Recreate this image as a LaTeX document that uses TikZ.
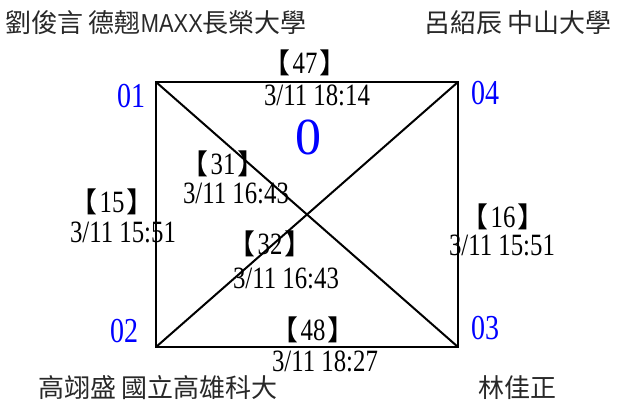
\documentclass[tikz,border=0pt]{standalone}
\usepackage{fontspec}
\setmainfont{Liberation Serif}
\newfontfamily\cond{Liberation Serif}[FakeStretch=0.8]
\newfontfamily\brk{Noto Sans CJK SC}
\newfontfamily\cjk{Noto Sans CJK TC}
\newfontfamily\arial{Liberation Sans}[FakeStretch=0.84]
\definecolor{ptblue}{RGB}{0,0,255}
\definecolor{namegray}{RGB}{40,40,40}
\newcommand{\bk}[1]{\smash{\brk\fontsize{28}{28}\selectfont 【}\kern2pt#1\kern2pt\smash{\brk\fontsize{28}{28}\selectfont 】}}
\begin{document}
\begin{tikzpicture}[x=1pt,y=-1pt,
  rectline/.style={line width=2pt,black},
  edgelab/.style={inner sep=0pt,anchor=center,font=\cond\fontsize{31}{31}\selectfont,text=black},
  ptlab/.style={inner sep=0pt,anchor=center,font=\cond\fontsize{35}{35}\selectfont,text=ptblue},
  biglab/.style={inner sep=0pt,anchor=center,font=\fontsize{52}{52}\selectfont,text=ptblue},
  whotext/.style={inner sep=0pt,anchor=center,font=\cjk\fontsize{26}{26}\selectfont,text=namegray}]
\useasboundingbox (0,0) rectangle (619,405);
\coordinate (c1) at (156,82);
\coordinate (c4) at (458,82);
\coordinate (c2) at (156,347);
\coordinate (c3) at (458,347);
\draw[rectline,line join=miter] (c1) -- (c4) -- (c3) -- (c2) -- cycle;
\draw[rectline] (c1) -- (c3);
\draw[rectline] (c2) -- (c4);
% blue point labels
\node[ptlab] (n01) at (131,96) {01};
\node[ptlab] (n04) at (485,93) {04};
\node[ptlab] (n02) at (124,331) {02};
\node[ptlab] (n03) at (485,328) {03};
\node[biglab] (zero) at (308,137) {0};
% edge labels
\node[edgelab] (l47a) at (305,63) {\bk{47}};
\node[edgelab] (l47b) at (317,95) {3/11 18:14};
\node[edgelab] (l48a) at (313,330) {\bk{48}};
\node[edgelab] (l48b) at (325,361) {3/11 18:27};
\node[edgelab] (l31a) at (223,164) {\bk{31}};
\node[edgelab] (l31b) at (236,193) {3/11 16:43};
\node[edgelab] (l15a) at (112,202) {\bk{15}};
\node[edgelab] (l15b) at (123,232) {3/11 15:51};
\node[edgelab] (l32a) at (270,244) {\bk{32}};
\node[edgelab] (l32b) at (286,278) {3/11 16:43};
\node[edgelab] (l16a) at (503,217) {\bk{16}};
\node[edgelab] (l16b) at (502,245) {3/11 15:51};
% names
\node[whotext] (tl) at (156,23) {劉俊言 德翹{\arial MAXX}長榮大學};
\node[whotext] (tr) at (518,23) {呂紹辰 中山大學};
\node[whotext] (bl) at (158,388) {高翊盛 國立高雄科大};
\node[whotext] (br) at (517,388) {林佳正};
\end{tikzpicture}
\end{document}
